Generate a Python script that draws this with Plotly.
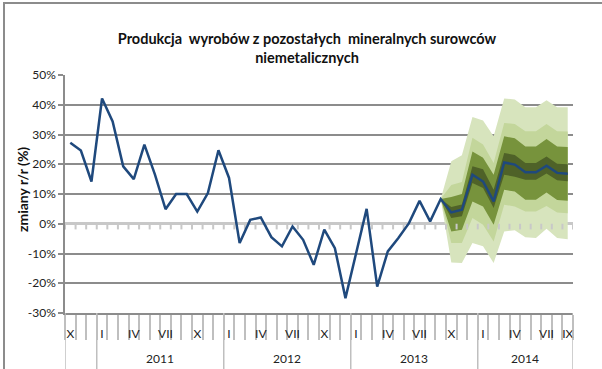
import plotly.graph_objects as go

# Month axis: October 2010 .. September 2014
months = ["X", "XI", "XII"] + ["I", "II", "III", "IV", "V", "VI", "VII", "VIII", "IX", "X", "XI", "XII"] * 3 \
         + ["I", "II", "III", "IV", "V", "VI", "VII", "VIII", "IX"]
shown_months = {"I", "IV", "VII", "X"}
years = ["2011", "2012", "2013", "2014"]
year_start = [3, 15, 27, 39]          # first month index of each year
year_len = [12, 12, 12, 9]

# Observed y/y change (%)
actual = [27.2, 24.6, 14.2, 42.1, 34.4, 19.3, 15.0, 26.6, 16.5, 4.9, 10.0, 10.0,
          4.1, 10.3, 24.7, 15.4, -6.5, 1.3, 2.1, -4.5, -7.6, -0.9, -5.4, -13.8,
          -2.0, -8.2, -25.0, -10.0, 5.0, -21.1, -9.3, -4.8, 0.2, 7.7, 0.8, 8.3]

# Forecast (starting from the last observation) and fan bands
fc_start = 35
forecast = [8.3, 3.8, 4.7, 16.5, 14.2, 7.5, 20.6, 19.9, 17.3, 17.3, 19.5, 17.1, 16.8]
band_outer_hi = [8.3, 21.0, 23.0, 35.9, 34.7, 29.4, 42.1, 41.8, 39.2, 39.2, 41.5, 39.2, 39.2]
band_outer_lo = [8.3, -13.0, -13.2, -6.5, -7.6, -13.2, -2.6, -2.2, -4.5, -4.8, -1.7, -4.8, -5.2]
band_wide_hi = [8.3, 13.0, 14.0, 28.9, 26.6, 20.4, 33.9, 33.5, 31.1, 31.1, 33.5, 31.1, 31.0]
band_wide_lo = [8.3, -6.5, -6.5, 1.9, -0.3, -6.0, 6.4, 5.8, 4.1, 4.1, 6.0, 3.8, 3.5]
band_mid_hi = [8.3, 9.0, 10.0, 24.3, 22.2, 16.5, 29.4, 28.7, 26.0, 26.0, 28.5, 26.0, 25.8]
band_mid_lo = [8.3, -2.6, -2.0, 7.5, 5.8, -0.3, 11.4, 10.8, 8.1, 8.1, 10.5, 8.0, 7.7]
band_core_hi = [8.3, 5.6, 6.5, 19.3, 18.3, 11.4, 23.8, 23.1, 20.4, 20.4, 22.6, 20.2, 20.0]
band_core_lo = [8.3, 1.9, 2.5, 13.7, 12.0, 5.3, 16.5, 15.8, 14.8, 14.8, 16.9, 14.6, 14.3]

y_ticks = [-30, -20, -10, 0, 10, 20, 30, 40, 50]

FONT = "Lato, 'Open Sans', sans-serif"
W, H = 602, 369
ML, MR, MT, MB = 65, 29, 75, 56
PW, PH = W - ML - MR, H - MT - MB

n = len(months)
x_all = list(range(n))
x_fc = list(range(fc_start, fc_start + len(forecast)))

fig = go.Figure()

# Fan bands, widest first
bands = [
    (band_outer_hi, band_outer_lo, "#D7E4BD"),
    (band_wide_hi, band_wide_lo, "#C3D69B"),
    (band_mid_hi, band_mid_lo, "#77933C"),
    (band_core_hi, band_core_lo, "#4F6228"),
]
for hi, lo, col in bands:
    fig.add_trace(go.Scatter(
        x=x_fc + x_fc[::-1], y=hi + lo[::-1],
        fill="toself", fillcolor=col, mode="lines",
        line=dict(width=0, color=col), hoverinfo="skip", showlegend=False))

# Small tick marks hanging from the zero line at month boundaries
tx, ty = [], []
for k in range(n + 1):
    tx += [k - 0.5, k - 0.5, None]
    ty += [0, -1.9, None]
fig.add_trace(go.Scatter(x=tx, y=ty, mode="lines",
                         line=dict(color="#C8C8C8", width=2),
                         hoverinfo="skip", showlegend=False))

# Main series: observations followed by the central forecast path
fig.add_trace(go.Scatter(
    x=x_all[:len(actual)] + x_fc[1:], y=actual + forecast[1:],
    mode="lines", line=dict(color="#1F497D", width=2.5),
    showlegend=False))

tick_idx = [i for i, m in enumerate(months) if m in shown_months] + [n - 1]
tick_txt = [months[i] for i in tick_idx]


def px_x(p):
    return (p - ML) / PW


def px_y(p):
    return (H - MB - p) / PH


shapes = []
# Year separators below the axis
for b in [-0.5] + [s - 0.5 for s in year_start] + [n - 0.5]:
    shapes.append(dict(type="line", xref="x", yref="paper", x0=b, x1=b,
                       y0=0, y1=px_y(372), line=dict(color="#BFBFBF", width=1.5)))
# Outer frame of the chart
shapes.append(dict(type="rect", xref="paper", yref="paper",
                   x0=px_x(4), x1=px_x(640), y0=px_y(3), y1=px_y(420),
                   line=dict(color="#8C8C8C", width=2), fillcolor="rgba(0,0,0,0)"))

annotations = []
for yr, s, ln in zip(years, year_start, year_len):
    annotations.append(dict(x=s + (ln - 1) / 2, y=px_y(358), xref="x", yref="paper",
                            text=yr, showarrow=False, xanchor="center", yanchor="middle",
                            font=dict(family=FONT, size=12, color="#222")))
annotations.append(dict(x=px_x(22), y=px_y(190), xref="paper", yref="paper",
                        text="<b>zmiany r/r (%)</b>", textangle=-90, showarrow=False,
                        xanchor="center", yanchor="middle",
                        font=dict(family=FONT, size=14, color="#111")))

fig.update_layout(
    width=W, height=H,
    margin=dict(l=ML, r=MR, t=MT, b=MB, pad=0),
    paper_bgcolor="white", plot_bgcolor="white",
    title=dict(text="<b>Produkcja\u00a0 wyrobów z pozostałych\u00a0 mineralnych surowców<br>niemetalicznych</b>",
               x=307 / W, xref="container", xanchor="center", y=(H - 44) / H,
               yanchor="middle", font=dict(family=FONT, size=14.5, color="#111")),
    shapes=shapes, annotations=annotations,
    xaxis=dict(range=[-0.5, n - 0.5], tickmode="array", tickvals=tick_idx, ticktext=tick_txt,
               ticks="outside", ticklen=9, tickcolor="rgba(0,0,0,0)",
               tickfont=dict(family=FONT, size=12, color="#222"),
               showgrid=False, zeroline=False, showline=True, linecolor="#8C8C8C", linewidth=2,
               minor=dict(tick0=-0.5, dtick=1, ticks="outside", ticklen=25,
                          tickcolor="#BFBFBF", tickwidth=1.5, showgrid=False),
               automargin=False, fixedrange=True),
    yaxis=dict(range=[-30, 50], tickmode="array", tickvals=y_ticks,
               ticktext=[f"{v}%" for v in y_ticks],
               ticks="outside", ticklen=5, tickcolor="#8C8C8C", tickwidth=1.5,
               tickfont=dict(family=FONT, size=12, color="#222"),
               showgrid=True, gridcolor="#8C8C8C", gridwidth=2,
               zeroline=True, zerolinecolor="#C8C8C8", zerolinewidth=3,
               showline=True, linecolor="#8C8C8C", linewidth=1.5,
               automargin=False, fixedrange=True),
)

fig.write_html("out.html")
